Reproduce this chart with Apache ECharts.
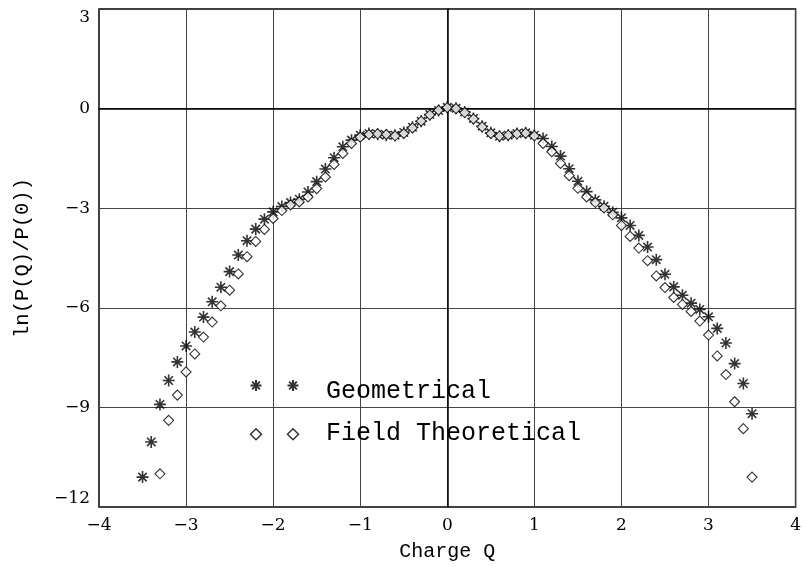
<!DOCTYPE html>
<html>
<head>
<meta charset="utf-8">
<script src="https://cdn.jsdelivr.net/npm/echarts@6/dist/echarts.min.js"></script>
<style>html,body{margin:0;padding:0;background:#fff;}#c{width:804px;height:567px;}</style>
</head>
<body>
<div id="c"></div>
<script>
const geoQ = [-3.5,-3.4,-3.3,-3.2,-3.1,-3.0,-2.9,-2.8,-2.7,-2.6,-2.5,-2.4,-2.3,-2.2,-2.1,-2.0,-1.9,-1.8,-1.7,-1.6,-1.5,-1.4,-1.3,-1.2,-1.1,-1.0,-0.9,-0.8,-0.7,-0.6,-0.5,-0.4,-0.3,-0.2,-0.1,0.0,0.1,0.2,0.3,0.4,0.5,0.6,0.7,0.8,0.9,1.0,1.1,1.2,1.3,1.4,1.5,1.6,1.7,1.8,1.9,2.0,2.1,2.2,2.3,2.4,2.5,2.6,2.7,2.8,2.9,3.0,3.1,3.2,3.3,3.4,3.5];
const geoVal = [-11.1,-10.04,-8.91,-8.19,-7.63,-7.15,-6.73,-6.28,-5.82,-5.38,-4.91,-4.41,-3.98,-3.63,-3.33,-3.11,-2.95,-2.83,-2.73,-2.51,-2.20,-1.82,-1.48,-1.15,-0.95,-0.80,-0.75,-0.77,-0.80,-0.80,-0.72,-0.56,-0.38,-0.18,-0.06,0.04,0.01,-0.10,-0.30,-0.53,-0.73,-0.83,-0.80,-0.75,-0.73,-0.80,-0.90,-1.14,-1.43,-1.81,-2.19,-2.50,-2.75,-2.94,-3.12,-3.29,-3.52,-3.82,-4.17,-4.55,-4.99,-5.37,-5.62,-5.86,-6.05,-6.27,-6.62,-7.06,-7.68,-8.28,-9.19];
const ftQ = [-3.3,-3.2,-3.1,-3.0,-2.9,-2.8,-2.7,-2.6,-2.5,-2.4,-2.3,-2.2,-2.1,-2.0,-1.9,-1.8,-1.7,-1.6,-1.5,-1.4,-1.3,-1.2,-1.1,-1.0,-0.9,-0.8,-0.7,-0.6,-0.5,-0.4,-0.3,-0.2,-0.1,0.0,0.1,0.2,0.3,0.4,0.5,0.6,0.7,0.8,0.9,1.0,1.1,1.2,1.3,1.4,1.5,1.6,1.7,1.8,1.9,2.0,2.1,2.2,2.3,2.4,2.5,2.6,2.7,2.8,2.9,3.0,3.1,3.2,3.3,3.4,3.5];
const ftVal = [-11.0,-9.39,-8.63,-7.93,-7.39,-6.88,-6.43,-5.94,-5.47,-4.98,-4.46,-4.00,-3.64,-3.31,-3.07,-2.90,-2.81,-2.66,-2.41,-2.06,-1.68,-1.35,-1.05,-0.86,-0.78,-0.76,-0.78,-0.82,-0.75,-0.58,-0.38,-0.19,-0.05,0.03,0.0,-0.12,-0.31,-0.55,-0.75,-0.83,-0.80,-0.76,-0.74,-0.82,-1.05,-1.30,-1.65,-2.02,-2.40,-2.66,-2.83,-2.99,-3.20,-3.52,-3.85,-4.20,-4.58,-5.04,-5.39,-5.69,-5.90,-6.11,-6.40,-6.82,-7.45,-8.01,-8.83,-9.64,-11.1];
const seriesNames = ['Geometrical', 'Field Theoretical'];
const xTicks = [-4,-3,-2,-1,0,1,2,3,4];
const yTicks = [-12,-9,-6,-3,0,3];
const xName = 'Charge Q';
const yName = 'ln(P(Q)/P(0))';

const asterisk = 'path://M5,0L5,10M0,5L10,5M1.5,1.5L8.5,8.5M1.5,8.5L8.5,1.5';
const fmt = v => String(v).replace('-', '\u2212');
const chart = echarts.init(document.getElementById('c'));
const tickFont = {fontFamily: 'DejaVu Serif', fontSize: 17, color: '#000'};
const iconLegend = (left) => ({
  orient: 'vertical', left: left, top: 379, padding: 0, itemWidth: 11, itemHeight: 11, itemGap: 36,
  data: [{name: seriesNames[0]}, {name: seriesNames[1], itemStyle: {color: '#fff', borderColor: '#000', borderWidth: 1.5}}],
  formatter: () => '', selectedMode: false,
  textStyle: {fontSize: 1}
});
chart.setOption({
  backgroundColor: '#fff',
  animation: false,
  grid: {left: 99, right: 4, top: 9, bottom: 60, show: true, borderColor: '#000', borderWidth: 1.5, containLabel: false},
  xAxis: {
    type: 'value', min: xTicks[0], max: xTicks[xTicks.length-1], interval: 1,
    name: xName, nameLocation: 'middle', nameGap: 35,
    nameTextStyle: {fontFamily: 'Liberation Mono', fontSize: 20, color: '#000'},
    axisLine: {show: true, lineStyle: {color: '#000', width: 1.5}},
    axisTick: {show: false},
    axisLabel: Object.assign({margin: 10, formatter: fmt}, tickFont),
    splitLine: {show: true, lineStyle: {color: '#444', width: 1}}
  },
  yAxis: {
    type: 'value', min: yTicks[0], max: yTicks[yTicks.length-1], interval: 3,
    name: yName, nameLocation: 'middle', nameGap: 66,
    nameTextStyle: {fontFamily: 'Liberation Mono', fontSize: 20.5, color: '#000'},
    axisLine: {show: true, lineStyle: {color: '#000', width: 1.5}},
    axisTick: {show: false},
    axisLabel: Object.assign({margin: 9, formatter: fmt, verticalAlignMinLabel: 'bottom', verticalAlignMaxLabel: 'top'}, tickFont),
    splitLine: {show: true, lineStyle: {color: '#444', width: 1}}
  },
  legend: [
    iconLegend(249.5),
    iconLegend(286.5),
    {
      orient: 'vertical', left: 310, top: 378, padding: 0, itemWidth: 10, itemHeight: 10, itemGap: 16,
      data: seriesNames, selectedMode: false,
      itemStyle: {opacity: 0},
      textStyle: {fontFamily: 'Liberation Mono', fontSize: 25, color: '#000', lineHeight: 26}
    }
  ],
  series: [
    {
      name: seriesNames[0], type: 'scatter', symbol: asterisk, symbolSize: 12,
      data: geoQ.map((q, i) => [q, geoVal[i]]),
      itemStyle: {color: 'rgba(0,0,0,0)', borderColor: '#000', borderWidth: 1.6}
    },
    {
      name: seriesNames[1], type: 'scatter', symbol: 'diamond', symbolSize: 10,
      data: ftQ.map((q, i) => [q, ftVal[i]]),
      itemStyle: {color: '#fff', borderColor: '#000', borderWidth: 1.1}
    }
  ]
});
</script>
</body>
</html>
